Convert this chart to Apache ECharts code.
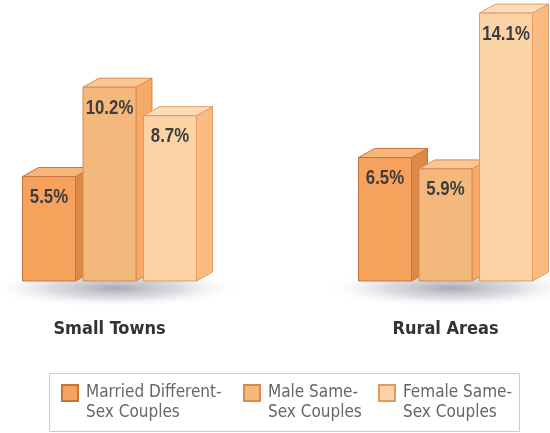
<!DOCTYPE html>
<html>
<head>
<meta charset="utf-8">
<script src="https://cdn.jsdelivr.net/npm/echarts@6/dist/echarts.min.js"></script>
<style>
  html, body { margin: 0; padding: 0; background: #fff; }
  #main { width: 550px; height: 433px; }
</style>
</head>
<body>
<div id="main"></div>
<script>
// data
var categories = ['Small Towns', 'Rural Areas'];
var seriesNames = ['Married Different-\nSex Couples', 'Male Same-\nSex Couples', 'Female Same-\nSex Couples'];
var marriedDiff = [5.5, 6.5];
var maleSame = [10.2, 5.9];
var femaleSame = [8.7, 14.1];

var FONT = "'DejaVu Sans Condensed', 'DejaVu Sans', sans-serif";
// front / side / top / edge colours per series
var faces = [
    { front: '#f7a25c', side: '#de8848', top: '#f5b57b', edge: '#c8733a' },
    { front: '#f5b87c', side: '#f7a968', top: '#f9c696', edge: '#d98a50' },
    { front: '#fcd2a7', side: '#f9bc85', top: '#fddcba', edge: '#e39a5e' }
];
var BAR_W = 53, DX = 16, DY = 9;
var offsets = [-60.5, 0, 60.5];

function toData(arr) {
    return arr.map(function (v, i) { return [i, v]; });
}

function renderBar(params, api) {
    var s = params.seriesIndex - 1;   // series 0 is the shadow
    var f = faces[s];
    var cat = api.value(0), val = api.value(1);
    var base = api.coord([cat, 0]);
    var top = api.coord([cat, val]);
    var x = base[0] + offsets[s] - BAR_W / 2;
    var ty = top[1], by = base[1];
    var edge = { stroke: f.edge, lineWidth: 1 };
    return {
        type: 'group',
        children: [
            {   // side face
                type: 'polygon',
                shape: { points: [[x + BAR_W, ty], [x + BAR_W + DX, ty - DY], [x + BAR_W + DX, by - DY], [x + BAR_W, by]] },
                style: Object.assign({ fill: f.side }, edge)
            },
            {   // top face
                type: 'polygon',
                shape: { points: [[x, ty], [x + DX, ty - DY], [x + BAR_W + DX, ty - DY], [x + BAR_W, ty]] },
                style: Object.assign({ fill: f.top }, edge)
            },
            {   // front face
                type: 'rect',
                shape: { x: x, y: ty, width: BAR_W, height: by - ty },
                style: Object.assign({ fill: f.front }, edge)
            },
            {   // bold label, squeezed a bit to look condensed
                type: 'text',
                x: x + BAR_W / 2,
                y: ty + 21,
                scaleX: 0.84,
                style: {
                    text: val.toFixed(1) + '%',
                    fill: '#3d3d3d',
                    font: 'bold 20px "Liberation Sans", Arial, sans-serif',
                    align: 'center',
                    verticalAlign: 'middle'
                }
            }
        ]
    };
}

function renderShadow(params, api) {
    var c = api.coord([api.value(0), 0]);
    var cx = c[0] + 6, cy = c[1] + 7;
    return {
        type: 'circle',
        shape: { cx: cx, cy: cy, r: 130 },
        scaleY: 0.15,
        originX: cx,
        originY: cy,
        style: {
            fill: {
                type: 'radial', x: 0.5, y: 0.5, r: 0.5,
                colorStops: [
                    { offset: 0, color: 'rgba(165,165,176,0.95)' },
                    { offset: 0.5, color: 'rgba(195,195,203,0.6)' },
                    { offset: 1, color: 'rgba(255,255,255,0)' }
                ]
            }
        },
        silent: true
    };
}

var myChart = echarts.init(document.getElementById('main'));

var barSeries = [marriedDiff, maleSame, femaleSame].map(function (arr, i) {
    return {
        name: seriesNames[i],
        type: 'custom',
        renderItem: renderBar,
        itemStyle: { color: faces[i].front, borderColor: faces[i].edge, borderWidth: 1 },
        encode: { x: 0, y: 1 },
        data: toData(arr)
    };
});

myChart.setOption({
    animation: false,
    // categories sit on the grid edges (boundaryGap false)
    grid: { left: 109.5, right: 104.5, top: 5.5, bottom: 152 },
    xAxis: {
        type: 'category',
        data: categories,
        boundaryGap: false,
        axisLine: { show: false },
        axisTick: { show: false },
        splitLine: { show: false },
        axisLabel: {
            margin: 39,
            color: '#333',
            fontWeight: 'bold',
            fontSize: 18,
            fontFamily: FONT
        }
    },
    yAxis: {
        type: 'value',
        min: 0,
        max: 14.5,
        show: false,
        splitLine: { show: false }
    },
    legend: {
        left: 61,
        top: 363,
        padding: 0,
        itemWidth: 16,
        itemHeight: 16,
        itemGap: 10,
        icon: 'rect',
        // blank first line keeps the icon level with the first text line
        formatter: function (name) { return ' \n' + name; },
        textStyle: {
            color: '#666',
            fontSize: 17,
            lineHeight: 20,
            fontFamily: FONT,
            padding: [0, 0, 0, 3]
        },
        data: [
            { name: seriesNames[0], textStyle: { width: 147 } },
            { name: seriesNames[1], textStyle: { width: 100 } },
            { name: seriesNames[2] }
        ]
    },
    graphic: [{
        type: 'rect',
        shape: { x: 49.5, y: 373.5, width: 470, height: 58 },
        style: { fill: 'none', stroke: '#cccccc', lineWidth: 1 },
        silent: true
    }],
    series: [{
        type: 'custom',
        renderItem: renderShadow,
        encode: { x: 0, y: 1 },
        data: [[0, 0], [1, 0]],
        z: 1,
        silent: true
    }].concat(barSeries)
});
</script>
</body>
</html>
